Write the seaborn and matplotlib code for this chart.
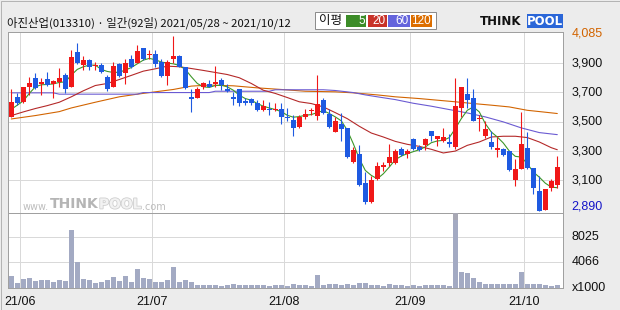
import numpy as np
import pandas as pd
import matplotlib
matplotlib.use("Agg")
import matplotlib.pyplot as plt
import matplotlib.patheffects as pe
from matplotlib.patches import Rectangle
import seaborn as sns

# ---------------- data ----------------
opens = [3535, 3670, 3635, 3740, 3795, 3755, 3790, 3755, 3770, 3820,
         3740, 3975, 3885, 3920, 3880, 3885, 3805, 3740, 3895, 3830,
         3925, 3900, 4000, 3955, 3965, 3905, 3815, 3930, 3950, 3875,
         3665, 3665, 3735, 3755, 3755, 3785, 3720, 3665, 3720, 3640,
         3655, 3625, 3580, 3585, 3580, 3585, 3530, 3515, 3465, 3530,
         3570, 3540, 3650, 3555, 3430, 3485, 3455, 3225, 3280, 3085,
         2950, 3110, 3195, 3220, 3220, 3315, 3280, 3385, 3325, 3340,
         3435, 3380, 3370, 3365, 3330, 3595, 3690, 3660, 3520, 3405,
         3365, 3310, 3315, 3300, 3100, 3175, 3320, 3185, 3030, 2900,
         3045, 3070]
highs = [3720, 3695, 3740, 3805, 3830, 3795, 3840, 3785, 3865, 3830,
         3990, 4040, 3950, 3930, 3905, 3900, 3820, 3910, 3900, 3930,
         3955, 4025, 4005, 3990, 3990, 3925, 3920, 4085, 3955, 3875,
         3720, 3740, 3770, 3785, 3880, 3795, 3755, 3705, 3725, 3660,
         3665, 3650, 3650, 3635, 3630, 3630, 3595, 3545, 3545, 3585,
         3595, 3820, 3660, 3590, 3530, 3560, 3460, 3330, 3340, 3155,
         3130, 3225, 3225, 3345, 3315, 3330, 3315, 3390, 3340, 3390,
         3435, 3405, 3460, 3415, 3795, 3735, 3795, 3720, 3545, 3505,
         3435, 3395, 3320, 3300, 3245, 3565, 3430, 3185, 3130, 3040,
         3110, 3265]
lows = [3530, 3615, 3630, 3680, 3720, 3680, 3745, 3660, 3735, 3695,
        3740, 3895, 3855, 3850, 3850, 3830, 3710, 3735, 3805, 3760,
        3865, 3900, 3920, 3930, 3875, 3805, 3750, 3900, 3870, 3725,
        3565, 3660, 3725, 3735, 3740, 3715, 3705, 3615, 3605, 3615,
        3615, 3575, 3575, 3545, 3570, 3485, 3505, 3405, 3460, 3520,
        3545, 3515, 3555, 3460, 3430, 3370, 3255, 3220, 3065, 2940,
        2945, 3105, 3165, 3200, 3215, 3265, 3250, 3305, 3300, 3305,
        3370, 3335, 3365, 3325, 3315, 3535, 3595, 3505, 3435, 3390,
        3315, 3260, 3265, 3165, 3065, 3175, 3180, 3005, 2890, 2900,
        3025, 3050]
closes = [3635, 3630, 3735, 3765, 3730, 3770, 3750, 3775, 3800, 3720,
          3940, 3900, 3920, 3875, 3885, 3840, 3725, 3880, 3815, 3900,
          3870, 3980, 3925, 3965, 3895, 3815, 3905, 3950, 3870, 3730,
          3660, 3725, 3765, 3740, 3770, 3750, 3715, 3660, 3625, 3630,
          3630, 3580, 3605, 3580, 3585, 3530, 3525, 3460, 3530, 3555,
          3580, 3620, 3560, 3465, 3505, 3450, 3260, 3305, 3070, 2950,
          3100, 3200, 3200, 3260, 3300, 3275, 3300, 3315, 3305, 3385,
          3400, 3400, 3395, 3345, 3605, 3735, 3645, 3505, 3525, 3450,
          3330, 3320, 3270, 3170, 3180, 3350, 3185, 3045, 2890, 3040,
          3095, 3190]
volumes = [1890, 840, 1470, 1575, 1155, 1260, 1260, 945, 1260, 1100,
           9135, 4095, 1420, 1260, 840,
           1000, 1260, 1785, 1155, 1890, 945, 3045, 1520, 1365, 1000,
           1000, 1260, 3360, 1000, 1260, 890,
           525, 470, 470, 470, 315, 470, 630, 470, 470, 470, 470, 470, 315, 470, 470,
           315, 630, 470, 470, 315, 2050, 470, 630, 630, 470, 630, 470, 790, 790, 470, 470,
           315, 630, 470, 470, 315, 470, 315, 470, 470, 470, 470, 315, 11700, 2550, 2400,
           1500, 950, 700, 700, 700, 600, 700, 700, 2520, 650, 650, 650, 500, 350, 470]

ma5 = [3585, 3613, 3642, 3693, 3738, 3752, 3754, 3758, 3768, 3772,
       3818, 3857, 3875, 3886, 3886, 3857, 3843, 3836, 3838, 3852,
       3870, 3895, 3920, 3932, 3923, 3907, 3900, 3895, 3884, 3857,
       3807, 3761, 3738, 3734, 3747, 3749, 3738, 3715, 3681, 3658,
       3647, 3624, 3606, 3594, 3583, 3569, 3544, 3531, 3535, 3544,
       3549, 3562, 3576, 3556, 3533, 3506, 3442, 3350, 3248, 3168,
       3134, 3111, 3145, 3191, 3241, 3266, 3282, 3296, 3309, 3328,
       3357, 3369, 3373, 3392, 3453, 3521, 3578, 3601, 3567, 3487,
       3430, 3396, 3355, 3300, 3264, 3259, 3214, 3157, 3122, 3081,
       3054, 3050]
ma20_idx = list(range(0, 91, 2)) + [91]
ma20 = [3542, 3567, 3590, 3610, 3633, 3670, 3711, 3747, 3761, 3788,
        3816, 3845, 3861, 3879, 3875, 3863, 3850, 3836, 3822, 3800,
        3761, 3715, 3693, 3665, 3636, 3624, 3601, 3562, 3521, 3469,
        3423, 3396, 3366, 3346, 3332, 3312, 3287, 3300, 3339, 3362,
        3396, 3401, 3401, 3392, 3362, 3323, 3309]
ma60_idx = [0, 7, 8, 21, 22, 33, 34, 43, 44, 52, 54, 57, 59, 61, 64, 67, 70,
            73, 76, 79, 82, 85, 88, 91]
ma60 = [3697, 3697, 3688, 3688, 3699, 3699, 3708, 3708, 3718, 3718, 3713,
        3699, 3683, 3670, 3651, 3626, 3606, 3583, 3560, 3533, 3499, 3458,
        3426, 3412]
ma120_idx = [0, 4, 8, 10, 14, 18, 21, 24, 27, 30, 33, 37, 41, 45, 49, 54, 57,
             61, 64, 68, 71, 74, 77, 80, 83, 86, 89, 91]
ma120 = [3519, 3542, 3569, 3594, 3633, 3670, 3688, 3704, 3720, 3743, 3750,
         3745, 3731, 3720, 3708, 3704, 3697, 3683, 3670, 3658, 3647, 3636,
         3624, 3613, 3601, 3578, 3565, 3556]

month_pos = [1, 23, 45, 66, 85]
month_labels = ["21/06", "21/07", "21/08", "21/09", "21/10"]
price_grid = [3100, 3300, 3500, 3700, 3900]
price_labels = ["3,100", "3,300", "3,500", "3,700", "3,900"]
price_max, price_min = 4085, 2890
vol_grid = [4066, 8025]
title = "아진산업(013310) · 일간(92일) 2021/05/28 ~ 2021/10/12"
ma_names = ["5", "20", "60", "120"]

# ---------------- style ----------------
sns.set_theme(style="white")
plt.rcParams['font.family'] = ['Noto Sans CJK KR', 'DejaVu Sans']
NUMFONT = ['Liberation Sans', 'DejaVu Sans']

W, H = 620, 310
BG = "#ececec"
RED, BLUE = "#f01818", "#1e5ae1"
C5, C20, C60, C120 = "#3c9628", "#b42828", "#6a5ad2", "#d26400"
GRID = "#d9d9d9"
FRAME = "#a0a0a0"
PX = 0.72  # 1 pixel in points

fig = plt.figure(figsize=(W / 100, H / 100), dpi=100)
fig.patch.set_facecolor(BG)


def fx(px):
    return px / W


def fy(py):
    return 1 - py / H


L, R = 8, 563
ax = fig.add_axes([fx(L), fy(212.5), (R - L) / W, (212.5 - 32) / H])
axv = fig.add_axes([fx(L), fy(288), (R - L) / W, (288 - 212.5) / H])

x = np.arange(len(closes))
o = np.array(opens, float)
c = np.array(closes, float)
h = np.array(highs, float)
l = np.array(lows, float)
up = c >= o
cols = np.where(up, RED, BLUE)

for a in (ax, axv):
    a.set_facecolor("white")
    a.set_xlim(-0.55, 91.95)
    for s in a.spines.values():
        s.set_color(FRAME)
        s.set_linewidth(1.0 * PX)
    a.set_xticks([])
    a.set_yticks([])
    for mp in month_pos:
        a.axvline(mp + 0.45, color=GRID, lw=PX, zorder=0)

ax.set_ylim(2881, 4112)
axv.set_ylim(0, 11880)

for g in price_grid:
    ax.axhline(g, color=GRID, lw=PX, zorder=0)
for g in vol_grid:
    axv.axhline(g, color=GRID, lw=PX, zorder=0)

# moving averages
sns.lineplot(x=ma120_idx, y=ma120, ax=ax, color=C120, lw=1.1 * PX, zorder=2)
sns.lineplot(x=ma60_idx, y=ma60, ax=ax, color=C60, lw=1.1 * PX, zorder=2)
sns.lineplot(x=ma20_idx, y=ma20, ax=ax, color=C20, lw=1.1 * PX, zorder=2)
sns.lineplot(x=x, y=ma5, ax=ax, color=C5, lw=1.1 * PX, zorder=2)

# candles
ax.vlines(x, l, h, colors=cols, lw=1.1 * PX, zorder=3)
body_lo = np.minimum(o, c)
body_h = np.maximum(np.abs(c - o), 10)
body_lo = np.where(np.abs(c - o) < 10, (o + c) / 2 - 5, body_lo)
ax.bar(x, body_h, bottom=body_lo, width=0.82, color=cols, lw=0, zorder=4)

# volume
vdf = pd.DataFrame({"i": x, "v": volumes})
sns.barplot(data=vdf, x="i", y="v", ax=axv, native_scale=True, color="#a3aac3",
            saturation=1, width=0.82, linewidth=0, zorder=3)
axv.set_xlim(-0.55, 91.95)
axv.set_xlabel("")
axv.set_ylabel("")
axv.set_xticks([])
axv.set_yticks([])
ax.set_xlabel("")
ax.set_ylabel("")

# right-hand labels
lab_x = 1.0155
for g, t in zip(price_grid, price_labels):
    ax.text(lab_x, g, t, transform=ax.get_yaxis_transform(), ha="left",
            va="center", fontsize=9, family=NUMFONT, color="#111111")
ax.text(lab_x, price_max + 15, f"{price_max:,}", transform=ax.get_yaxis_transform(),
        ha="left", va="center", fontsize=9, family=NUMFONT, color="#d26400")
ax.text(lab_x, price_min + 30, f"{price_min:,}", transform=ax.get_yaxis_transform(),
        ha="left", va="center", fontsize=9, family=NUMFONT, color="#1414c8")
for g in vol_grid:
    axv.text(lab_x, g, str(g), transform=axv.get_yaxis_transform(), ha="left",
             va="center", fontsize=9, family=NUMFONT, color="#111111")
axv.text(lab_x, 0, "x1000", transform=axv.get_yaxis_transform(), ha="left",
         va="center", fontsize=9, family=NUMFONT, color="#111111")

# month labels
for mp, t in zip(month_pos, month_labels):
    axv.text(mp + 0.45, -0.19, t, transform=axv.get_xaxis_transform(), ha="center",
             va="center", fontsize=9, family=NUMFONT, color="#111111")

# title
fig.text(fx(7), fy(23), title, ha="left", va="center", fontsize=8.2, color="#111111")

# MA legend box
fig.patches.append(Rectangle((fx(315), fy(29)), (436 - 315) / W, 17 / H,
                             transform=fig.transFigure, facecolor="white",
                             edgecolor="#8c8c8c", lw=PX))
fig.text(fx(319), fy(20.5), "이평", ha="left", va="center", fontsize=9, color="#111111")
boxes = [(346, 366), (368, 387), (388, 410), (411, 432)]
box_cols = ["#3c8c28", "#c83228", "#6464dc", "#dc6e00"]
for (x0, x1), bc, name in zip(boxes, box_cols, ma_names):
    fig.patches.append(Rectangle((fx(x0), fy(27)), (x1 - x0) / W, 12 / H,
                                 transform=fig.transFigure, facecolor=bc, lw=0))
    fig.text(fx(x1 - 1), fy(21), name, ha="right", va="center", fontsize=8.5,
             family=NUMFONT, color="white")

# ThinkPool logo (top right)
fig.text(fx(480), fy(21.5), "THINK", ha="left", va="center", fontsize=8.5,
         weight="bold", family=['DejaVu Sans'], color="#111111")
fig.patches.append(Rectangle((fx(527), fy(28)), 36 / W, 14 / H,
                             transform=fig.transFigure, facecolor="#2a66d8", lw=0))
fig.text(fx(545), fy(21.5), "POOL", ha="center", va="center", fontsize=8.5,
         weight="bold", family=['DejaVu Sans'], color="white")

# watermark: pieces placed one after another
renderer = fig.canvas.get_renderer()
parts = [("www.", dict(fontsize=7, color="#bdbdbd"), 206.5),
         ("THINK", dict(fontsize=10, weight="bold", color="#b5b5b5"), 204.5),
         ("POOL", dict(fontsize=10, weight="bold", color="#f2f2f2",
                       path_effects=[pe.withStroke(linewidth=1.2, foreground="#cfcfcf")]), 204.5),
         (".com", dict(fontsize=7, color="#bdbdbd"), 206.5)]
xpos = 23
for txt, kw, ypx in parts:
    t = fig.text(fx(xpos), fy(ypx), txt, ha="left", va="center",
                 family=['DejaVu Sans'], **kw)
    bb = t.get_window_extent(renderer)
    xpos = bb.x1 + 0.5

# small scroll marker
fig.patches.append(Rectangle((fx(453), fy(220)), 5 / W, 7 / H,
                             transform=fig.transFigure, facecolor="#a8a8b4", lw=0,
                             zorder=10))

# outer border
fig.patches.append(Rectangle((0.5 / W, 0.5 / H), (W - 1) / W, (H - 1) / H,
                             transform=fig.transFigure, facecolor="none",
                             edgecolor="#b4b4b4", lw=PX))

fig.savefig("out.png", dpi=100, facecolor=BG)
